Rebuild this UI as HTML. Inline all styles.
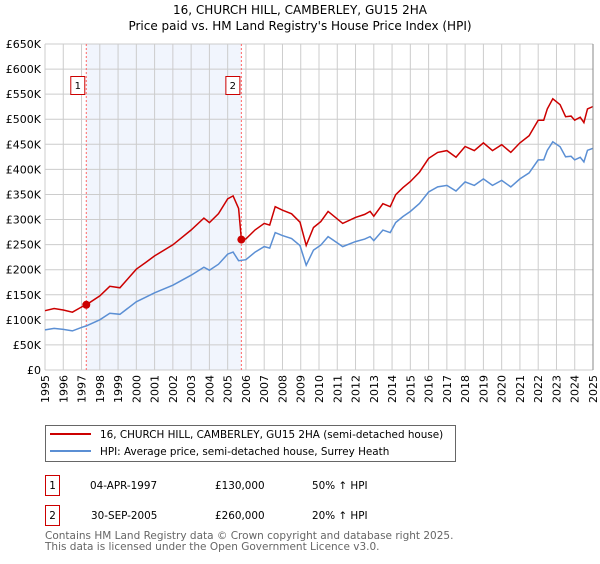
<!DOCTYPE html>
<html><head><meta charset="utf-8">
<style>
body{margin:0;width:600px;height:560px;background:#fff;font-family:"DejaVu Sans","Liberation Sans",sans-serif;overflow:hidden}
svg text{font-family:"DejaVu Sans","Liberation Sans",sans-serif}
</style></head><body>
<svg id="c" width="600" height="560" xmlns="http://www.w3.org/2000/svg">
<text x="300" y="14" text-anchor="middle" font-size="12" fill="#000">16, CHURCH HILL, CAMBERLEY, GU15 2HA</text>
<text x="300" y="30" text-anchor="middle" font-size="12" fill="#000">Price paid vs. HM Land Registry's House Price Index (HPI)</text>
<g id="grid"></g><g id="marks"></g><g id="axes"></g>
<rect x="45.5" y="425.5" width="410" height="36" fill="#fff" stroke="#666"/>
<line x1="50" y1="434" x2="91" y2="434" stroke="#cc0000" stroke-width="2"/>
<text x="100" y="438" font-size="10.4">16, CHURCH HILL, CAMBERLEY, GU15 2HA (semi-detached house)</text>
<line x1="50" y1="451" x2="91" y2="451" stroke="#5b8fd4" stroke-width="2"/>
<text x="100" y="455" font-size="10.4">HPI: Average price, semi-detached house, Surrey Heath</text>
<g>
<rect x="45.5" y="475.5" width="14" height="20" fill="#fff" stroke="#cc0000"/>
<text x="52.5" y="489" font-size="10.4" text-anchor="middle">1</text>
<text x="90" y="489" font-size="10.4">04-APR-1997</text>
<text x="215" y="489" font-size="10.4">£130,000</text>
<text x="312" y="489" font-size="10.4">50% ↑ HPI</text></g>
<g>
<rect x="45.5" y="505.5" width="14" height="20" fill="#fff" stroke="#cc0000"/>
<text x="52.5" y="519" font-size="10.4" text-anchor="middle">2</text>
<text x="91" y="519" font-size="10.4">30-SEP-2005</text>
<text x="215" y="519" font-size="10.4">£260,000</text>
<text x="312" y="519" font-size="10.4">20% ↑ HPI</text></g>
<text x="45" y="539" font-size="10.5" fill="#666">Contains HM Land Registry data © Crown copyright and database right 2025.</text>
<text x="45" y="550" font-size="10.5" fill="#666">This data is licensed under the Open Government Licence v3.0.</text>
</svg>
<script>
const hpiYears=[1995,1995.5,1996,1996.5,1997,1997.26,1998,1998.55,1999.1,2000,2000.5,2001,2002,2003,2003.7,2004,2004.5,2005,2005.3,2005.6,2006,2006.5,2007,2007.3,2007.6,2008,2008.5,2008.96,2009.3,2009.7,2010.1,2010.5,2010.7,2011.3,2012,2012.5,2012.8,2013,2013.5,2013.9,2014.2,2014.6,2015,2015.5,2016,2016.5,2017,2017.5,2018,2018.5,2019,2019.5,2020,2020.5,2021,2021.5,2022,2022.3,2022.5,2022.8,2023.2,2023.5,2023.8,2024,2024.3,2024.5,2024.7,2025];
const hpiValues=[80,83,81,78,85,88,100,113,111,136,145,154,169,189,205,199,211,231,235,218,220,235,246,243,274,268,262,248,209,239,249,266,261,246,256,261,266,258,279,274,294,306,316,332,355,365,368,357,375,368,381,368,378,365,381,393,419,419,438,455,445,425,426,419,424,415,438,442];
const saleYears=[1997.26,2005.75];
const salePrices=[130,260];
const yTicks=[0,50,100,150,200,250,300,350,400,450,500,550,600,650];
const yTickLabels=["£0","£50K","£100K","£150K","£200K","£250K","£300K","£350K","£400K","£450K","£500K","£550K","£600K","£650K"];
const xTicks=[1995,1996,1997,1998,1999,2000,2001,2002,2003,2004,2005,2006,2007,2008,2009,2010,2011,2012,2013,2014,2015,2016,2017,2018,2019,2020,2021,2022,2023,2024,2025];

const NS="http://www.w3.org/2000/svg";
const X0=45,X1=593,Y0=370,Y1=44;
const xs=t=>X0+(t-1995)/30*(X1-X0);
const ys=v=>Y0-v/650*(Y0-Y1);
function mk(tag,attrs,parent){const e=document.createElementNS(NS,tag);for(const k in attrs)e.setAttribute(k,attrs[k]);parent.appendChild(e);return e;}
const grid=document.getElementById('grid'),marks=document.getElementById('marks'),axes=document.getElementById('axes');
function hpiAt(t){for(let i=0;i<hpiYears.length-1;i++){if(t>=hpiYears[i]&&t<=hpiYears[i+1]){const f=(t-hpiYears[i])/(hpiYears[i+1]-hpiYears[i]);return hpiValues[i]+f*(hpiValues[i+1]-hpiValues[i]);}}return hpiValues[hpiValues.length-1];}
const sh=mk('rect',{x:xs(saleYears[0]),y:Y1,width:xs(saleYears[1])-xs(saleYears[0]),height:Y0-Y1,fill:'#eef3fc',opacity:0.8},grid);


yTicks.forEach((v,i)=>{
 const l=mk('line',{x1:X0,x2:X1,y1:ys(v),y2:ys(v),stroke:'#cccccc','stroke-width':1},grid);
 
 
 const t=mk('text',{x:X0-4,y:ys(v)+4,'text-anchor':'end','font-size':11},axes);
 t.textContent=yTickLabels[i];
 
 
});
xTicks.forEach(v=>{
 const l=mk('line',{x1:xs(v),x2:xs(v),y1:Y1,y2:Y0,stroke:'#cccccc','stroke-width':1},grid);
 
 
 const t=mk('text',{x:0,y:0,'text-anchor':'end','font-size':11,transform:`translate(${xs(v)+4},${Y0+5}) rotate(-90)`},axes);
 t.textContent=v;
 
 
});
saleYears.forEach((s,i)=>{
 const l=mk('line',{x1:xs(s),x2:xs(s),y1:Y1,y2:Y0,stroke:'#ff6666','stroke-width':1,'stroke-dasharray':'2,2'},marks);
 
 
 const r=mk('rect',{x:xs(s)-15.5,y:76.5,width:14,height:18,fill:'#fff',stroke:'#cc0000'},marks);
 
 
 const t=mk('text',{x:xs(s)-8.5,y:89,'text-anchor':'middle','font-size':10},marks);
 t.textContent=String(i+1);
 
 
});
const hp=hpiYears.map((t,i)=>`${xs(t).toFixed(1)},${ys(hpiValues[i]).toFixed(1)}`).join(' ');
const hl=mk('polyline',{points:hp,fill:'none',stroke:'#5b8fd4','stroke-width':1.5},marks);


const red=[];
const times=hpiYears.concat(saleYears).sort((a,b)=>a-b);
times.forEach(t=>{
 let k=0;for(let j=0;j<saleYears.length;j++)if(t>=saleYears[j])k=j;
 red.push(`${xs(t).toFixed(1)},${ys(hpiAt(t)*salePrices[k]/hpiAt(saleYears[k])).toFixed(1)}`);
});
const rl=mk('polyline',{points:red.join(' '),fill:'none',stroke:'#cc0000','stroke-width':1.5},marks);


saleYears.forEach((s,i)=>{
 const c=mk('circle',{cx:xs(s),cy:ys(salePrices[i]),r:4,fill:'#cc0000'},marks);
 
 
});
const ax=mk('line',{x1:X1,x2:X1,y1:Y1,y2:Y0,stroke:'#888','stroke-width':1},axes);


</script>
</body></html>
